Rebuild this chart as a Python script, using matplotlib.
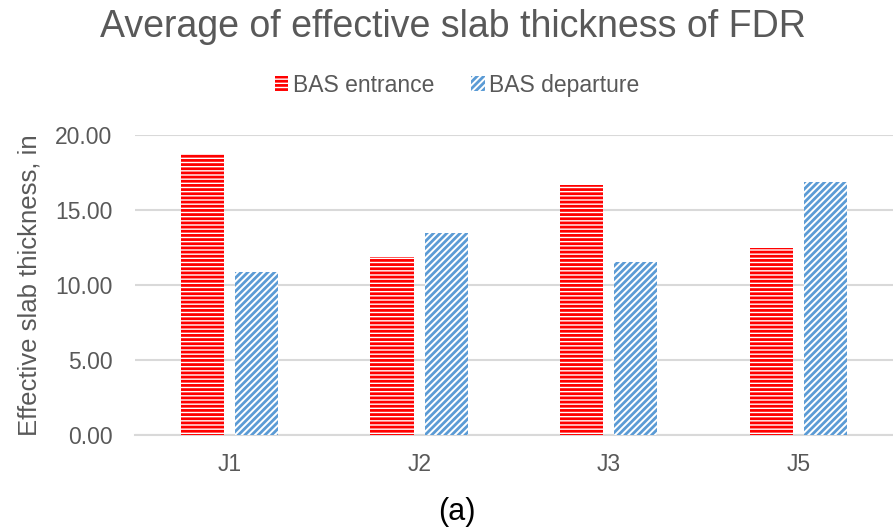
import numpy as np
import matplotlib
matplotlib.use('Agg')
import matplotlib.pyplot as plt

# Data
joints = ['J1', 'J2', 'J3', 'J5']
entrance = [18.73, 11.87, 16.67, 12.45]
departure = [10.88, 13.47, 11.55, 16.87]

plt.rcParams['font.family'] = ['Liberation Sans', 'DejaVu Sans']
plt.rcParams['hatch.linewidth'] = 2.0
grey = '#595959'

fig = plt.figure(figsize=(8.93, 5.29), dpi=100)
ax = fig.add_axes([0.151, 0.178, 0.849, 0.567])

x = np.arange(len(joints))
w = 0.228
off = 0.143

ax.bar(x - off, entrance, w, facecolor='white', edgecolor='#FF0000',
       hatch='----', linewidth=0, label='BAS entrance', zorder=3)
ax.bar(x + off, departure, w, facecolor='white', edgecolor='#5B9BD5',
       hatch='/////', linewidth=0, label='BAS departure', zorder=3)

ax.set_xlim(-0.5, 3.5)
ax.set_ylim(0, 20)
ax.set_yticks([0, 5, 10, 15, 20])
ax.set_yticklabels(['%.2f' % v for v in [0, 5, 10, 15, 20]])
ax.set_xticks(x)
ax.set_xticklabels(joints)

ax.grid(axis='y', color='#D9D9D9', linewidth=1.5, zorder=0)
for s in ['top', 'right', 'left']:
    ax.spines[s].set_visible(False)
ax.spines['bottom'].set_color('#D9D9D9')
ax.spines['bottom'].set_linewidth(1.5)
ax.tick_params(axis='both', length=0, labelsize=16.5, colors=grey)
ax.tick_params(axis='y', pad=16)
ax.tick_params(axis='x', pad=13)

ax.set_ylabel('Effective slab thickness, in', fontsize=18.5, color=grey, labelpad=10)

fig.text(0.507, 0.949, 'Average of effective slab thickness of FDR',
         fontsize=27, color=grey, ha='center', va='center')
fig.text(0.512, 0.032, '(a)', fontsize=22, color='black', ha='center', va='center')

leg = fig.legend(loc='center', bbox_to_anchor=(0.512, 0.839), ncol=2, frameon=False,
                 fontsize=16.5, handlelength=0.6, handleheight=0.6, handletextpad=0.2,
                 columnspacing=1.6)
for t in leg.get_texts():
    t.set_color(grey)

fig.savefig('out.png', dpi=100)
